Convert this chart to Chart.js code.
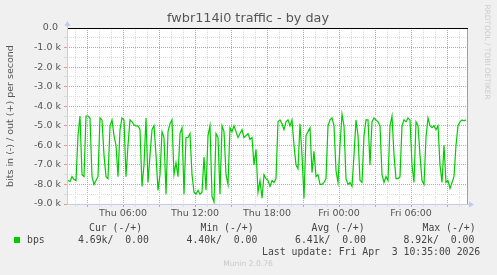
<!DOCTYPE html>
<html>
<head>
<meta charset="utf-8">
<script src="https://cdn.jsdelivr.net/npm/chart.js@4"></script>
<style>
html, body { margin: 0; padding: 0; background: #f0f0f0; }
canvas { display: block; }
</style>
</head>
<body>
<canvas id="chart" width="497" height="275"></canvas>
<script>
// bits in per second, one sample every 10 minutes (drawn below zero)
const startHour = 1.25; // Thu 01:15
const stepHours = 1 / 6;
const inBps = [
  7750, 7800, 7850, 7600, 7750, 7800, 5500, 4500, 7500, 7600, 4500, 4500, 4600, 7600, 8000, 7800, 7600,
  4600, 4700, 6500, 7600, 7700, 5000, 4700, 5500, 6000, 7600, 5200, 4600, 4700, 7600, 6000, 4700, 4800,
  4950, 5000, 5000, 5200, 8100, 7000, 4600, 7900, 6500, 5200, 5000, 6500, 8300, 7500, 5300, 5600, 8500,
  5300, 4900, 4700, 7500, 6900, 7600, 5400, 5100, 8500, 5600, 5600, 5400, 7500, 8400, 8500, 8300, 8500,
  8400, 6600, 8300, 5500, 5000, 8600, 8900, 5400, 5600, 8500, 5000, 5300, 7500, 8000, 5100, 5300, 5000,
  5300, 5600, 5400, 5200, 5600, 5500, 5400, 5700, 5600, 7000, 6200, 8400, 7800, 8700, 7500, 7700,
  7800, 8100, 7800, 7900, 7700, 4800, 4700, 4900, 5200, 4800, 4700, 5000, 4700, 6000, 7000, 7200, 4900,
  6500, 8700, 5500, 5300, 5100, 7400, 6300, 7600, 7500, 8000, 8000, 7900, 7700, 5000, 4700, 4600, 5000,
  7300, 7900, 6000, 4400, 5000, 7700, 8000, 7900, 8100, 6500, 4700, 5500, 7800, 7900, 5500, 4700,
  4700, 7000, 4800, 4600, 4700, 4800, 5000, 7500, 7900, 7600, 7800, 5000, 4500, 6500, 7700, 7700, 7600,
  5000, 4700, 4800, 4600, 4700, 7000, 7900, 4800, 5000, 6500, 7800, 8000, 5600, 4600, 5000, 5100, 5000,
  5200, 5000, 7000, 7900, 6000, 7900, 7800, 8200, 7900, 7600, 6000, 5000, 4800, 4700, 4750, 4690
];

const labelHours = [6, 12, 18, 24, 30];
const tickLabels = ['Thu 06:00', 'Thu 12:00', 'Thu 18:00', 'Fri 00:00', 'Fri 06:00'];

const legendHeaders = ['Cur (-/+)', 'Min (-/+)', 'Avg (-/+)', 'Max (-/+)'];
const legendValues = ['4.69k/  0.00', '4.40k/  0.00', '6.41k/  0.00', '8.92k/  0.00'];

const RED = '#e99494';
const GRAY = '#dcdcdc';
const AXIS = '#c8cce8';

const points = inBps.map((v, i) => ({ x: startHour + i * stepHours, y: -v }));

const munin = {
  id: 'munin',
  beforeDraw(chart) {
    const { ctx, chartArea: a } = chart;
    ctx.save();
    ctx.fillStyle = '#f0f0f0';
    ctx.fillRect(0, 0, chart.width, chart.height);
    ctx.fillStyle = '#ffffff';
    ctx.fillRect(a.left, a.top, a.right - a.left, a.bottom - a.top);
    ctx.restore();
  },
  afterDatasetsDraw(chart) {
    const { ctx, chartArea: a } = chart;
    const y0 = Math.round(chart.scales.y.getPixelForValue(0)) + 0.5;
    ctx.save();
    // right frame
    ctx.strokeStyle = '#a0a0a0';
    ctx.lineWidth = 1;
    ctx.beginPath();
    ctx.moveTo(a.right + 0.5, a.top);
    ctx.lineTo(a.right + 0.5, a.bottom);
    ctx.stroke();
    // zero line
    ctx.strokeStyle = '#000000';
    ctx.beginPath();
    ctx.moveTo(a.left, y0);
    ctx.lineTo(a.right + 1, y0);
    ctx.stroke();
    // axes
    ctx.strokeStyle = AXIS;
    ctx.beginPath();
    ctx.moveTo(a.left + 0.5, a.bottom + 0.5);
    ctx.lineTo(a.left + 0.5, a.top - 3);
    ctx.moveTo(a.left, a.bottom + 0.5);
    ctx.lineTo(a.right + 3, a.bottom + 0.5);
    ctx.stroke();
    ctx.fillStyle = '#c0c8f4';
    ctx.beginPath();
    ctx.moveTo(a.left + 0.5, a.top - 7);
    ctx.lineTo(a.left - 2.5, a.top - 2);
    ctx.lineTo(a.left + 3.5, a.top - 2);
    ctx.fill();
    ctx.beginPath();
    ctx.moveTo(a.right + 7, a.bottom + 0.5);
    ctx.lineTo(a.right + 2, a.bottom - 2.5);
    ctx.lineTo(a.right + 2, a.bottom + 3.5);
    ctx.fill();
    ctx.restore();
  },
  afterDraw(chart) {
    const { ctx, chartArea: a } = chart;
    ctx.save();
    ctx.textBaseline = 'middle';
    // title
    ctx.fillStyle = '#555';
    ctx.font = '12.8px "DejaVu Sans"';
    ctx.textAlign = 'center';
    ctx.fillText('fwbr114i0 traffic - by day', 248, 19);
    // vertical axis title
    ctx.save();
    ctx.translate(11, (a.top + a.bottom) / 2);
    ctx.rotate(-Math.PI / 2);
    ctx.font = '9.5px "DejaVu Sans"';
    ctx.fillText('bits in (-) / out (+) per second', 0, 0);
    ctx.restore();
    // rrdtool credit
    ctx.save();
    ctx.translate(487, 52);
    ctx.rotate(Math.PI / 2);
    ctx.fillStyle = '#cccccc';
    ctx.font = '7.4px "DejaVu Sans"';
    ctx.fillText('RRDTOOL / TOBI OETIKER', 0, 0);
    ctx.restore();
    // legend
    ctx.textAlign = 'left';
    ctx.fillStyle = '#444';
    ctx.font = '9.8px "DejaVu Sans Mono"';
    const headX = [89, 200.5, 311.5, 422.5];
    const valX = [78, 186.5, 295, 403.5];
    legendHeaders.forEach((t, i) => ctx.fillText(t, headX[i], 228));
    legendValues.forEach((t, i) => ctx.fillText(t, valX[i], 240));
    ctx.fillText('bps', 27, 240);
    ctx.fillText('Last update: Fri Apr  3 10:35:00 2026', 262, 252);
    ctx.fillStyle = '#00cc00';
    ctx.fillRect(14, 237, 6, 6);
    // footer
    ctx.textAlign = 'center';
    ctx.fillStyle = '#c8c8c8';
    ctx.font = '7.6px "DejaVu Sans"';
    ctx.fillText('Munin 2.0.76', 248, 264);
    ctx.restore();
  }
};

new Chart(document.getElementById('chart'), {
  type: 'line',
  data: {
    datasets: [
      {
        label: 'bps',
        data: points,
        borderColor: '#00cc00',
        borderWidth: 1.2,
        pointRadius: 0,
        fill: false,
        tension: 0,
      },
    ],
  },
  options: {
    responsive: false,
    animation: false,
    devicePixelRatio: 1,
    layout: { padding: { top: 28, right: 30, left: 0, bottom: 0 } },
    plugins: { legend: { display: false }, tooltip: { enabled: false } },
    scales: {
      x: {
        type: 'linear',
        min: 4 / 3,
        max: 34 + 2 / 3,
        afterBuildTicks(scale) {
          const ticks = [];
          for (let h = 2; h <= 34; h++) ticks.push({ value: h });
          scale.ticks = ticks;
        },
        afterFit(scale) { scale.height = 71; },
        border: { display: false, dash: [1, 1] },
        grid: {
          color: (c) => (c.tick && c.tick.value % 3 === 0 ? RED : GRAY),
          tickLength: 3,
        },
        ticks: {
          autoSkip: false,
          maxRotation: 0,
          padding: 1,
          color: '#555',
          font: { family: 'DejaVu Sans', size: 9.5 },
          callback: (v) => {
            const i = labelHours.indexOf(v);
            return i >= 0 ? tickLabels[i] : '';
          },
        },
      },
      y: {
        min: -9000,
        max: 0,
        afterFit(scale) { scale.width = 67; },
        border: { display: false, dash: [1, 1] },
        grid: {
          color: (c) => {
            const v = c.tick ? c.tick.value : 1;
            if (v === 0) return 'rgba(0,0,0,0)';
            return v % 1000 === 0 ? RED : GRAY;
          },
          tickLength: 3,
        },
        ticks: {
          stepSize: 500,
          autoSkip: false,
          padding: 3,
          color: '#555',
          font: { family: 'DejaVu Sans', size: 9.5 },
          callback: (v) => {
            if (v % 1000 !== 0) return '';
            return v === 0 ? '0.0 ' : (v / 1000).toFixed(1) + ' k';
          },
        },
      },
    },
  },
  plugins: [munin],
});
</script>
</body>
</html>
